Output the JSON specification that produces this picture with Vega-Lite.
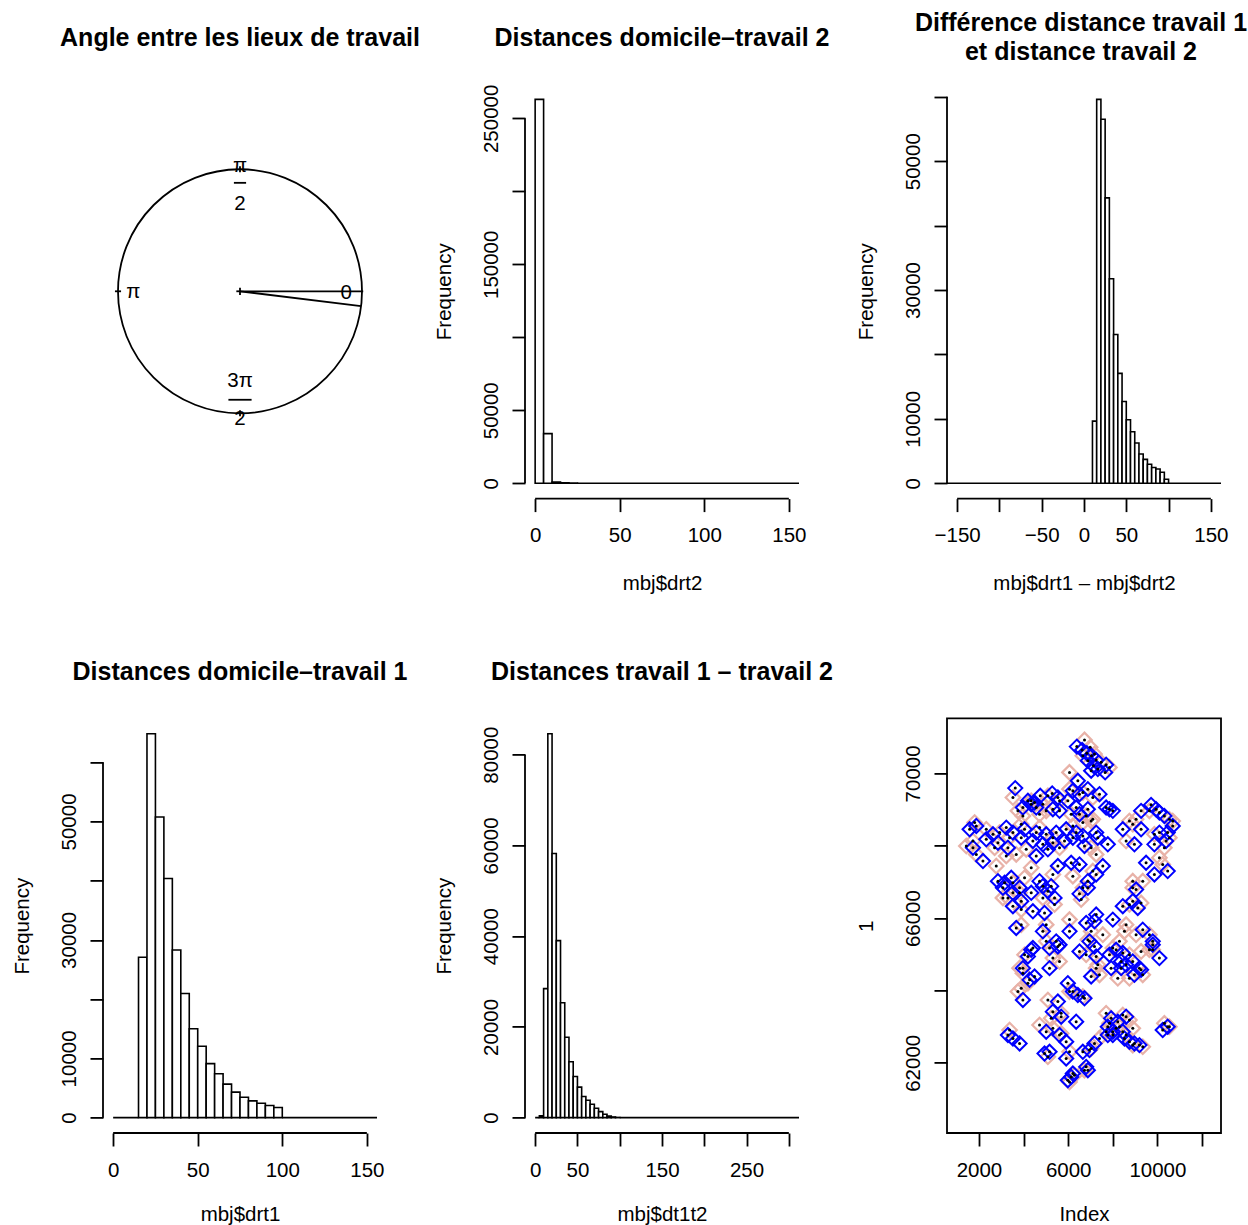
{
  "$schema": "https://vega.github.io/schema/vega-lite/v6.json",
  "padding": {"left": 12, "top": 11, "right": 5, "bottom": 5},
  "background": "white",
  "columns": 3,
  "spacing": {"row": 219.4, "column": 148},
  "bounds": "flush",
  "concat": [
    {
      "width": 274, "height": 414.6,
      "title": "Angle entre les lieux de travail",
      "layer": [
        {
          "data": {"values": [{}]},
          "mark": {"type": "point", "shape": "circle", "size": 59536, "filled": false, "stroke": "black", "strokeWidth": 1.8, "opacity": 1},
          "encoding": {
            "x": {"datum": 0, "type": "quantitative", "scale": {"domain": [-1.123, 1.123], "nice": false, "zero": false}, "axis": null},
            "y": {"datum": 0, "type": "quantitative", "scale": {"domain": [-1.699, 1.699], "nice": false, "zero": false}, "axis": null}
          }
        },
        {
          "data": {"values": [
            {"x": 0, "y": 0, "x2": 1.01, "y2": 0},
            {"x": 0, "y": 0, "x2": 0.9926, "y2": -0.1217},
            {"x": -1.025, "y": 0, "x2": -0.975, "y2": 0},
            {"x": 0, "y": 0.975, "x2": 0, "y2": 1.025},
            {"x": 0, "y": -1.025, "x2": 0, "y2": -0.975},
            {"x": -0.03, "y": 0, "x2": 0, "y2": 0},
            {"x": 0, "y": -0.03, "x2": 0, "y2": 0.03},
            {"x": -0.05, "y": 0.889, "x2": 0.05, "y2": 0.889},
            {"x": -0.095, "y": -0.889, "x2": 0.095, "y2": -0.889}
          ]},
          "mark": {"type": "rule", "stroke": "black", "strokeWidth": 1.8},
          "encoding": {
            "x": {"field": "x", "type": "quantitative"},
            "y": {"field": "y", "type": "quantitative"},
            "x2": {"field": "x2"},
            "y2": {"field": "y2"}
          }
        },
        {
          "data": {"values": [
            {"x": 0.87, "y": -0.016, "t": "0"},
            {"x": -0.875, "y": -0.007, "t": "π"},
            {"x": 0, "y": 1.026, "t": "π"},
            {"x": 0, "y": 0.714, "t": "2"},
            {"x": 0, "y": -0.737, "t": "3π"},
            {"x": 0, "y": -1.048, "t": "2"}
          ]},
          "mark": {"type": "text", "font": "Liberation Sans", "fontSize": 20.5, "color": "black", "align": "center", "baseline": "middle"},
          "encoding": {
            "x": {"field": "x", "type": "quantitative"},
            "y": {"field": "y", "type": "quantitative"},
            "text": {"field": "t"}
          }
        }
      ]
    },
    {
      "width": 274, "height": 414.6,
      "title": "Distances domicile–travail 2",
      "layer": [
        {
          "data": {"values": [
            {"b0": 0, "b1": 5, "n": 263000},
            {"b0": 5, "b1": 10, "n": 34000},
            {"b0": 10, "b1": 15, "n": 900},
            {"b0": 15, "b1": 20, "n": 250},
            {"b0": 20, "b1": 25, "n": 60},
            {"b0": 25, "b1": 170, "n": 0}
          ]},
          "mark": {"type": "rect", "fill": "white", "stroke": "black", "strokeWidth": 1.6, "clip": true},
          "encoding": {
            "x": {"field": "b0", "type": "quantitative", "scale": {"domain": [-6, 156], "nice": false, "zero": false},
                  "axis": {"values": [0, 50, 100, 150], "format": "d", "title": "mbj$drt2"}},
            "x2": {"field": "b1"},
            "y": {"field": "n", "type": "quantitative", "scale": {"domain": [-10520, 273520], "nice": false, "zero": false},
                  "axis": {"values": [0, 50000, 100000, 150000, 200000, 250000], "format": "d", "labelExpr": "datum.value == 100000 || datum.value == 200000 ? '' : datum.label", "title": "Frequency"}},
            "y2": {"datum": 0}
          }
        },
        {
          "data": {"values": [{}]},
          "mark": {"type": "rule", "stroke": "black", "strokeWidth": 1.8},
          "encoding": {"x": {"datum": 0, "type": "quantitative"}, "x2": {"datum": 150}, "y": {"datum": -10520, "type": "quantitative"}}
        },
        {
          "data": {"values": [{}]},
          "mark": {"type": "rule", "stroke": "black", "strokeWidth": 1.8},
          "encoding": {"x": {"datum": -6, "type": "quantitative"}, "y": {"datum": 0, "type": "quantitative"}, "y2": {"datum": 250000}}
        }
      ]
    },
    {
      "width": 274, "height": 414.6,
      "title": {"text": ["Différence distance travail 1", "et distance travail 2"], "offset": 19, "dx": -3},
      "layer": [
        {
          "data": {"values": [
            {"b0": -170, "b1": 10, "n": 0},
            {"b0": 10, "b1": 15, "n": 9650},
            {"b0": 15, "b1": 20, "n": 59600},
            {"b0": 20, "b1": 25, "n": 56500},
            {"b0": 25, "b1": 30, "n": 44300},
            {"b0": 30, "b1": 35, "n": 31750},
            {"b0": 35, "b1": 40, "n": 23100},
            {"b0": 40, "b1": 45, "n": 17050},
            {"b0": 45, "b1": 50, "n": 12700},
            {"b0": 50, "b1": 55, "n": 9850},
            {"b0": 55, "b1": 60, "n": 8000},
            {"b0": 60, "b1": 65, "n": 6250},
            {"b0": 65, "b1": 70, "n": 4550},
            {"b0": 70, "b1": 75, "n": 3700},
            {"b0": 75, "b1": 80, "n": 2950},
            {"b0": 80, "b1": 85, "n": 2450},
            {"b0": 85, "b1": 90, "n": 2200},
            {"b0": 90, "b1": 95, "n": 1700},
            {"b0": 95, "b1": 100, "n": 620},
            {"b0": 100, "b1": 170, "n": 0}
          ]},
          "mark": {"type": "rect", "fill": "white", "stroke": "black", "strokeWidth": 1.6, "clip": true},
          "encoding": {
            "x": {"field": "b0", "type": "quantitative", "scale": {"domain": [-162, 162], "nice": false, "zero": false},
                  "axis": {"values": [-150, -100, -50, 0, 50, 100, 150], "format": "d", "labelExpr": "abs(datum.value) == 100 ? '' : datum.label", "title": "mbj$drt1 – mbj$drt2"}},
            "x2": {"field": "b1"},
            "y": {"field": "n", "type": "quantitative", "scale": {"domain": [-2384, 61984], "nice": false, "zero": false},
                  "axis": {"values": [0, 10000, 20000, 30000, 40000, 50000, 60000], "format": "d", "labelExpr": "datum.value == 20000 || datum.value == 40000 || datum.value == 60000 ? '' : datum.label", "title": "Frequency"}},
            "y2": {"datum": 0}
          }
        },
        {
          "data": {"values": [{}]},
          "mark": {"type": "rule", "stroke": "black", "strokeWidth": 1.8},
          "encoding": {"x": {"datum": -150, "type": "quantitative"}, "x2": {"datum": 150}, "y": {"datum": -2384, "type": "quantitative"}}
        },
        {
          "data": {"values": [{}]},
          "mark": {"type": "rule", "stroke": "black", "strokeWidth": 1.8},
          "encoding": {"x": {"datum": -162, "type": "quantitative"}, "y": {"datum": 0, "type": "quantitative"}, "y2": {"datum": 60000}}
        }
      ]
    },
    {
      "width": 274, "height": 414.6,
      "title": "Distances domicile–travail 1",
      "layer": [
        {
          "data": {"values": [
            {"b0": 0, "b1": 15, "n": 0},
            {"b0": 15, "b1": 20, "n": 27070},
            {"b0": 20, "b1": 25, "n": 64800},
            {"b0": 25, "b1": 30, "n": 50740},
            {"b0": 30, "b1": 35, "n": 40370},
            {"b0": 35, "b1": 40, "n": 28310},
            {"b0": 40, "b1": 45, "n": 20950},
            {"b0": 45, "b1": 50, "n": 15010},
            {"b0": 50, "b1": 55, "n": 12060},
            {"b0": 55, "b1": 60, "n": 9120},
            {"b0": 60, "b1": 65, "n": 7420},
            {"b0": 65, "b1": 70, "n": 5660},
            {"b0": 70, "b1": 75, "n": 4300},
            {"b0": 75, "b1": 80, "n": 3450},
            {"b0": 80, "b1": 85, "n": 2830},
            {"b0": 85, "b1": 90, "n": 2430},
            {"b0": 90, "b1": 95, "n": 2040},
            {"b0": 95, "b1": 100, "n": 1700},
            {"b0": 100, "b1": 170, "n": 0}
          ]},
          "mark": {"type": "rect", "fill": "white", "stroke": "black", "strokeWidth": 1.6, "clip": true},
          "encoding": {
            "x": {"field": "b0", "type": "quantitative", "scale": {"domain": [-6, 156], "nice": false, "zero": false},
                  "axis": {"values": [0, 50, 100, 150], "format": "d", "title": "mbj$drt1", "titleY": 87.5}},
            "x2": {"field": "b1"},
            "y": {"field": "n", "type": "quantitative", "scale": {"domain": [-2592, 67392], "nice": false, "zero": false},
                  "axis": {"values": [0, 10000, 20000, 30000, 40000, 50000, 60000], "format": "d", "labelExpr": "datum.value == 20000 || datum.value == 40000 || datum.value == 60000 ? '' : datum.label", "title": "Frequency"}},
            "y2": {"datum": 0}
          }
        },
        {
          "data": {"values": [{}]},
          "mark": {"type": "rule", "stroke": "black", "strokeWidth": 1.8},
          "encoding": {"x": {"datum": 0, "type": "quantitative"}, "x2": {"datum": 150}, "y": {"datum": -2592, "type": "quantitative"}}
        },
        {
          "data": {"values": [{}]},
          "mark": {"type": "rule", "stroke": "black", "strokeWidth": 1.8},
          "encoding": {"x": {"datum": -6, "type": "quantitative"}, "y": {"datum": 0, "type": "quantitative"}, "y2": {"datum": 60000}}
        }
      ]
    },
    {
      "width": 274, "height": 414.6,
      "title": "Distances travail 1 – travail 2",
      "layer": [
        {
          "data": {"values": [
            {"b0": 0, "b1": 5, "n": 0},
            {"b0": 5, "b1": 10, "n": 400},
            {"b0": 10, "b1": 15, "n": 28430},
            {"b0": 15, "b1": 20, "n": 84600},
            {"b0": 20, "b1": 25, "n": 58200},
            {"b0": 25, "b1": 30, "n": 39000},
            {"b0": 30, "b1": 35, "n": 25330},
            {"b0": 35, "b1": 40, "n": 17730},
            {"b0": 40, "b1": 45, "n": 12330},
            {"b0": 45, "b1": 50, "n": 9080},
            {"b0": 50, "b1": 55, "n": 6720},
            {"b0": 55, "b1": 60, "n": 4650},
            {"b0": 60, "b1": 65, "n": 3840},
            {"b0": 65, "b1": 70, "n": 2950},
            {"b0": 70, "b1": 75, "n": 2070},
            {"b0": 75, "b1": 80, "n": 1330},
            {"b0": 80, "b1": 85, "n": 740},
            {"b0": 85, "b1": 90, "n": 370},
            {"b0": 90, "b1": 95, "n": 150},
            {"b0": 95, "b1": 100, "n": 50},
            {"b0": 100, "b1": 330, "n": 0}
          ]},
          "mark": {"type": "rect", "fill": "white", "stroke": "black", "strokeWidth": 1.6, "clip": true},
          "encoding": {
            "x": {"field": "b0", "type": "quantitative", "scale": {"domain": [-12, 312], "nice": false, "zero": false},
                  "axis": {"values": [0, 50, 100, 150, 200, 250, 300], "format": "d", "labelExpr": "datum.value == 100 || datum.value == 200 || datum.value == 300 ? '' : datum.label", "title": "mbj$dt1t2", "titleY": 87.5}},
            "x2": {"field": "b1"},
            "y": {"field": "n", "type": "quantitative", "scale": {"domain": [-3384, 87984], "nice": false, "zero": false},
                  "axis": {"values": [0, 20000, 40000, 60000, 80000], "format": "d", "title": "Frequency"}},
            "y2": {"datum": 0}
          }
        },
        {
          "data": {"values": [{}]},
          "mark": {"type": "rule", "stroke": "black", "strokeWidth": 1.8},
          "encoding": {"x": {"datum": 0, "type": "quantitative"}, "x2": {"datum": 300}, "y": {"datum": -3384, "type": "quantitative"}}
        },
        {
          "data": {"values": [{}]},
          "mark": {"type": "rule", "stroke": "black", "strokeWidth": 1.8},
          "encoding": {"x": {"datum": -12, "type": "quantitative"}, "y": {"datum": 0, "type": "quantitative"}, "y2": {"datum": 80000}}
        }
      ]
    },
    {
      "width": 274, "height": 414.6,
      "view": {"stroke": "black", "strokeWidth": 1.8},
      "data": {"values": [
        {"g":"b","x":6388,"y":70740},{"g":"b","x":6626,"y":70647},{"g":"b","x":6836,"y":70555},{"g":"b","x":7045,"y":70490},{"g":"b","x":7254,"y":70370},{"g":"b","x":6881,"y":70351},{"g":"b","x":7134,"y":70213},{"g":"b","x":7701,"y":70240},{"g":"b","x":7328,"y":70120},{"g":"b","x":7030,"y":70074},{"g":"b","x":7657,"y":70028},
        {"g":"b","x":6433,"y":69796},{"g":"b","x":6881,"y":69565},{"g":"b","x":7403,"y":69426},{"g":"b","x":3626,"y":69593},{"g":"b","x":5283,"y":69445},{"g":"b","x":5537,"y":69334},{"g":"b","x":4746,"y":69380},{"g":"b","x":4492,"y":69195},{"g":"b","x":4194,"y":69241},{"g":"b","x":6209,"y":69519},{"g":"b","x":6507,"y":69426},{"g":"b","x":7850,"y":69010},
        {"g":"b","x":3970,"y":69056},{"g":"b","x":4343,"y":69149},{"g":"b","x":4567,"y":69056},{"g":"b","x":5313,"y":69010},{"g":"b","x":5612,"y":68964},{"g":"b","x":6358,"y":69056},{"g":"b","x":5985,"y":69241},{"g":"b","x":6507,"y":68871},{"g":"b","x":6881,"y":69010},{"g":"b","x":7701,"y":69056},{"g":"b","x":8000,"y":68964},{"g":"b","x":9268,"y":68964},{"g":"b","x":9716,"y":69130},{"g":"b","x":9940,"y":69010},{"g":"b","x":10089,"y":68918},{"g":"b","x":10313,"y":68825},
        {"g":"b","x":1582,"y":68455},{"g":"b","x":1880,"y":68548},{"g":"b","x":2627,"y":68316},{"g":"b","x":3224,"y":68501},{"g":"b","x":3522,"y":68363},{"g":"b","x":4044,"y":68455},{"g":"b","x":4567,"y":68363},{"g":"b","x":5015,"y":68316},{"g":"b","x":5462,"y":68363},{"g":"b","x":5910,"y":68455},{"g":"b","x":6358,"y":68363},{"g":"b","x":6657,"y":68270},{"g":"b","x":7254,"y":68363},{"g":"b","x":8448,"y":68455},{"g":"b","x":9268,"y":68455},{"g":"b","x":10089,"y":68363},{"g":"b","x":10462,"y":68363},{"g":"b","x":10686,"y":68548},
        {"g":"b","x":1731,"y":67946},{"g":"b","x":2328,"y":68178},{"g":"b","x":2851,"y":68085},{"g":"b","x":3298,"y":67946},{"g":"b","x":3895,"y":68224},{"g":"b","x":4418,"y":68131},{"g":"b","x":4865,"y":68039},{"g":"b","x":5313,"y":68085},{"g":"b","x":5836,"y":68131},{"g":"b","x":6209,"y":68224},{"g":"b","x":6731,"y":67993},{"g":"b","x":7328,"y":68224},{"g":"b","x":7776,"y":68039},{"g":"b","x":8970,"y":68039},{"g":"b","x":9865,"y":68039},{"g":"b","x":10388,"y":68131},{"g":"b","x":2179,"y":67576},{"g":"b","x":4567,"y":67715},{"g":"b","x":5090,"y":67900},
        {"g":"b","x":2851,"y":67021},{"g":"b","x":3149,"y":66975},{"g":"b","x":3447,"y":67114},{"g":"b","x":3821,"y":66837},{"g":"b","x":4716,"y":67021},{"g":"b","x":5239,"y":66883},{"g":"b","x":5537,"y":67438},{"g":"b","x":6134,"y":67530},{"g":"b","x":6507,"y":67484},{"g":"b","x":6881,"y":67021},{"g":"b","x":7254,"y":67207},{"g":"b","x":7552,"y":67438},{"g":"b","x":9492,"y":67530},{"g":"b","x":9865,"y":67207},{"g":"b","x":10462,"y":67299},{"g":"b","x":9044,"y":66790},
        {"g":"b","x":3074,"y":66837},{"g":"b","x":3522,"y":66698},{"g":"b","x":3895,"y":66467},{"g":"b","x":4343,"y":66698},{"g":"b","x":4865,"y":66883},{"g":"b","x":5090,"y":66744},{"g":"b","x":5388,"y":66559},{"g":"b","x":6507,"y":66670},{"g":"b","x":6881,"y":66837},{"g":"b","x":3522,"y":66328},{"g":"b","x":4418,"y":66189},{"g":"b","x":4940,"y":66143},{"g":"b","x":8448,"y":66328},{"g":"b","x":8895,"y":66467},{"g":"b","x":9119,"y":66282},
        {"g":"b","x":3671,"y":65727},{"g":"b","x":4865,"y":65634},{"g":"b","x":6059,"y":65634},{"g":"b","x":6806,"y":65865},{"g":"b","x":7254,"y":66097},{"g":"b","x":7179,"y":65912},{"g":"b","x":8000,"y":65958},{"g":"b","x":9343,"y":65681},{"g":"b","x":9791,"y":65357},{"g":"b","x":10089,"y":64894},{"g":"b","x":5462,"y":65357},{"g":"b","x":5612,"y":65264},{"g":"b","x":4418,"y":65172},
        {"g":"b","x":4343,"y":65125},{"g":"b","x":4194,"y":64941},{"g":"b","x":5164,"y":65172},{"g":"b","x":5537,"y":65218},{"g":"b","x":6507,"y":65079},{"g":"b","x":6955,"y":65357},{"g":"b","x":7179,"y":65218},{"g":"b","x":7254,"y":64941},{"g":"b","x":7850,"y":64987},{"g":"b","x":8149,"y":65125},{"g":"b","x":8373,"y":64802},{"g":"b","x":8597,"y":64709},{"g":"b","x":8895,"y":64802},{"g":"b","x":9194,"y":64617},{"g":"b","x":9791,"y":65264},{"g":"b","x":8448,"y":65033},
        {"g":"b","x":3970,"y":64617},{"g":"b","x":4269,"y":64293},{"g":"b","x":4492,"y":64386},{"g":"b","x":5164,"y":64617},{"g":"b","x":7030,"y":64386},{"g":"b","x":7925,"y":64617},{"g":"b","x":8373,"y":64617},{"g":"b","x":8970,"y":64432},{"g":"b","x":9268,"y":64570},
        {"g":"b","x":3970,"y":63738},{"g":"b","x":5985,"y":64201},{"g":"b","x":6209,"y":63969},{"g":"b","x":6433,"y":63877},{"g":"b","x":6731,"y":63784},{"g":"b","x":5537,"y":63692},{"g":"b","x":5313,"y":63414},{"g":"b","x":5686,"y":63276},{"g":"b","x":6358,"y":63137},{"g":"b","x":7925,"y":63229},{"g":"b","x":8224,"y":63137},{"g":"b","x":8597,"y":63276},{"g":"b","x":7776,"y":62998},{"g":"b","x":8000,"y":62860},{"g":"b","x":8448,"y":62860},
        {"g":"b","x":3298,"y":62767},{"g":"b","x":3522,"y":62675},{"g":"b","x":3821,"y":62536},{"g":"b","x":5015,"y":62860},{"g":"b","x":5612,"y":62767},{"g":"b","x":5910,"y":62582},{"g":"b","x":4940,"y":62257},{"g":"b","x":5164,"y":62304},{"g":"b","x":5910,"y":62120},{"g":"b","x":6657,"y":62304},{"g":"b","x":6955,"y":62351},{"g":"b","x":7179,"y":62536},{"g":"b","x":7776,"y":62767},{"g":"b","x":8000,"y":62767},{"g":"b","x":8522,"y":62675},{"g":"b","x":8746,"y":62582},{"g":"b","x":8970,"y":62536},{"g":"b","x":9194,"y":62489},{"g":"b","x":10238,"y":62906},{"g":"b","x":10462,"y":62998},
        {"g":"b","x":6134,"y":61611},{"g":"b","x":5985,"y":61518},{"g":"b","x":6209,"y":61703},{"g":"b","x":6806,"y":61888},{"g":"b","x":6881,"y":61796},
        {"g":"p","x":6731,"y":70925},{"g":"p","x":6985,"y":70721},{"g":"p","x":7179,"y":70536},{"g":"p","x":7478,"y":70305},{"g":"p","x":6657,"y":70490},{"g":"p","x":6059,"y":70028},{"g":"p","x":7850,"y":70166},
        {"g":"p","x":3522,"y":69334},{"g":"p","x":5090,"y":69380},{"g":"p","x":6059,"y":69565},{"g":"p","x":6657,"y":69473},{"g":"p","x":7104,"y":69334},{"g":"p","x":4343,"y":69241},{"g":"p","x":4865,"y":69149},{"g":"p","x":5612,"y":69241},
        {"g":"p","x":3746,"y":68964},{"g":"p","x":4716,"y":68871},{"g":"p","x":5015,"y":68964},{"g":"p","x":6134,"y":68871},{"g":"p","x":6806,"y":68825},{"g":"p","x":7104,"y":68733},{"g":"p","x":8746,"y":68686},{"g":"p","x":9044,"y":68733},{"g":"p","x":9641,"y":68964},{"g":"p","x":10537,"y":68733},{"g":"p","x":10686,"y":68686},{"g":"p","x":3970,"y":68825},
        {"g":"p","x":1806,"y":68640},{"g":"p","x":2328,"y":68455},{"g":"p","x":2925,"y":68363},{"g":"p","x":3373,"y":68224},{"g":"p","x":3895,"y":68594},{"g":"p","x":4716,"y":68501},{"g":"p","x":5313,"y":68224},{"g":"p","x":6209,"y":68548},{"g":"p","x":6657,"y":68640},{"g":"p","x":7030,"y":68686},{"g":"p","x":8895,"y":68594},{"g":"p","x":9865,"y":68316},{"g":"p","x":10537,"y":68224},{"g":"p","x":1731,"y":68131},
        {"g":"p","x":1433,"y":67993},{"g":"p","x":1880,"y":67761},{"g":"p","x":2701,"y":67946},{"g":"p","x":3671,"y":67761},{"g":"p","x":4119,"y":67900},{"g":"p","x":5612,"y":67946},{"g":"p","x":7030,"y":67946},{"g":"p","x":7254,"y":67761},{"g":"p","x":8597,"y":68131},{"g":"p","x":10313,"y":67946},{"g":"p","x":3224,"y":67715},
        {"g":"p","x":2776,"y":67438},{"g":"p","x":3522,"y":66975},{"g":"p","x":4044,"y":67114},{"g":"p","x":4343,"y":67391},{"g":"p","x":5313,"y":67207},{"g":"p","x":6209,"y":67160},{"g":"p","x":6657,"y":66837},{"g":"p","x":7104,"y":67299},{"g":"p","x":10089,"y":67669},{"g":"p","x":10238,"y":67484},{"g":"p","x":9343,"y":67021},{"g":"p","x":8895,"y":67021},
        {"g":"p","x":3298,"y":66559},{"g":"p","x":3821,"y":66698},{"g":"p","x":4865,"y":66559},{"g":"p","x":5388,"y":66374},{"g":"p","x":6582,"y":66513},{"g":"p","x":3895,"y":66235},{"g":"p","x":3074,"y":66559},{"g":"p","x":8746,"y":66374},{"g":"p","x":9268,"y":66420},{"g":"p","x":8895,"y":66837},
        {"g":"p","x":3895,"y":65819},{"g":"p","x":5015,"y":65819},{"g":"p","x":6059,"y":65958},{"g":"p","x":7030,"y":65634},{"g":"p","x":6881,"y":65403},{"g":"p","x":7552,"y":65542},{"g":"p","x":8597,"y":65819},{"g":"p","x":9044,"y":65542},{"g":"p","x":9641,"y":65542},{"g":"p","x":8522,"y":65634},{"g":"p","x":9791,"y":65125},
        {"g":"p","x":4044,"y":64987},{"g":"p","x":5015,"y":65357},{"g":"p","x":5313,"y":64894},{"g":"p","x":5612,"y":64802},{"g":"p","x":6806,"y":64987},{"g":"p","x":7328,"y":64709},{"g":"p","x":8000,"y":65172},{"g":"p","x":8298,"y":65357},{"g":"p","x":8746,"y":64987},{"g":"p","x":9268,"y":65079},{"g":"p","x":9641,"y":65125},
        {"g":"p","x":3970,"y":64478},{"g":"p","x":4194,"y":64201},{"g":"p","x":3821,"y":64617},{"g":"p","x":7254,"y":64617},{"g":"p","x":7403,"y":64432},{"g":"p","x":8224,"y":64339},{"g":"p","x":8746,"y":64339},{"g":"p","x":9343,"y":64432},{"g":"p","x":3895,"y":64062},
        {"g":"p","x":3746,"y":63969},{"g":"p","x":5090,"y":63738},{"g":"p","x":6059,"y":63969},{"g":"p","x":6657,"y":63831},{"g":"p","x":5239,"y":63229},{"g":"p","x":5686,"y":63368},{"g":"p","x":7701,"y":63368},{"g":"p","x":8448,"y":63322},{"g":"p","x":8746,"y":63183},{"g":"p","x":7850,"y":63091},{"g":"p","x":8298,"y":62998},{"g":"p","x":8895,"y":62952},
        {"g":"p","x":3373,"y":62906},{"g":"p","x":5313,"y":62952},{"g":"p","x":5686,"y":62813},{"g":"p","x":6059,"y":62304},{"g":"p","x":5090,"y":62166},{"g":"p","x":7030,"y":62397},{"g":"p","x":7403,"y":62675},{"g":"p","x":7701,"y":62860},{"g":"p","x":8149,"y":62952},{"g":"p","x":8597,"y":62767},{"g":"p","x":8895,"y":62489},{"g":"p","x":9343,"y":62443},{"g":"p","x":10313,"y":63091},{"g":"p","x":10537,"y":62998},{"g":"p","x":4716,"y":63044},
        {"g":"p","x":6059,"y":61472},{"g":"p","x":6731,"y":61796},{"g":"p","x":6283,"y":61657}
      ]},
      "encoding": {
        "x": {"field": "x", "type": "quantitative", "scale": {"domain": [567, 12851], "nice": false, "zero": false},
              "axis": {"values": [2000, 4000, 6000, 8000, 10000, 12000], "format": "d", "labelExpr": "datum.value == 4000 || datum.value == 8000 || datum.value == 12000 ? '' : datum.label", "title": "Index", "titleY": 87.5}},
        "y": {"field": "y", "type": "quantitative", "scale": {"domain": [60060, 71520], "nice": false, "zero": false},
              "axis": {"values": [62000, 64000, 66000, 68000, 70000], "format": "d", "labelExpr": "datum.value == 64000 || datum.value == 68000 ? '' : datum.label", "title": "1"}}
      },
      "layer": [
        {"transform": [{"filter": "datum.g == 'p'"}], "mark": {"type": "point", "shape": "diamond", "size": 210, "filled": false, "color": "#E8B2A8", "strokeWidth": 2.2, "opacity": 1}},
        {"transform": [{"filter": "datum.g == 'b'"}], "mark": {"type": "point", "shape": "diamond", "size": 200, "filled": false, "color": "#0000FF", "strokeWidth": 2, "opacity": 1}},
        {"mark": {"type": "point", "shape": "circle", "size": 9, "filled": true, "color": "black", "opacity": 1}}
      ]
    }
  ],
  "config": {
    "font": "Liberation Sans",
    "view": {"stroke": null},
    "axis": {
      "domain": false, "grid": false, "ticks": true,
      "tickColor": "black", "tickWidth": 1.8, "tickSize": 13,
      "labelFont": "Liberation Sans", "labelFontSize": 20.5, "labelColor": "black",
      "labelOverlap": false, "labelFlush": false, "labelBound": false,
      "titleFont": "Liberation Sans", "titleFontSize": 20.5, "titleFontWeight": "normal", "titleColor": "black"
    },
    "axisX": {"labelAngle": 0, "labelAlign": "center", "labelBaseline": "alphabetic", "labelPadding": 30, "titleBaseline": "alphabetic", "titleY": 91},
    "axisY": {"labelAngle": 270, "labelAlign": "center", "labelBaseline": "alphabetic", "labelPadding": 14.3, "titleAngle": 270, "titleAlign": "center", "titleBaseline": "alphabetic", "titleX": -74.3},
    "title": {"font": "Liberation Sans", "fontSize": 25, "fontWeight": "bold", "color": "black", "frame": "group", "anchor": "middle", "baseline": "middle", "offset": 33, "lineHeight": 29}
  }
}
